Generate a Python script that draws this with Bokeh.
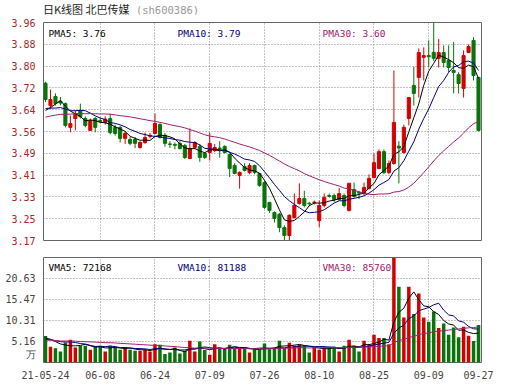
from bokeh.plotting import figure
from bokeh.layouts import column
from bokeh.models import FixedTicker, Label, Range1d, ColumnDataSource, Div
from bokeh.embed import file_html
from bokeh.resources import INLINE

# ---------------- data ----------------
tick_idx = [0, 11, 22, 33, 44, 55, 66, 77, 87]
tick_labels = ["21-05-24", "06-08", "06-24", "07-09", "07-26", "08-10", "08-25", "09-09", "09-27"]

price_tick_labels = ["3.17", "3.25", "3.33", "3.41", "3.49", "3.56", "3.64", "3.72", "3.80", "3.88", "3.96"]
vol_tick_labels = ["5.16", "10.31", "15.47", "20.63"]
vol_unit_label = "万"

opens = [3.740, 3.659, 3.692, 3.675, 3.666, 3.580, 3.612, 3.641, 3.612, 3.569,
         3.612, 3.605, 3.598, 3.612, 3.580, 3.580, 3.540, 3.536, 3.536, 3.507,
         3.525, 3.548, 3.558, 3.590, 3.551, 3.520, 3.518, 3.522, 3.514, 3.467,
         3.507, 3.511, 3.485, 3.489, 3.496, 3.505, 3.511, 3.482, 3.442, 3.406,
         3.438, 3.416, 3.442, 3.413, 3.380, 3.308, 3.271, 3.265, 3.217, 3.188,
         3.253, 3.304, 3.322, 3.305, 3.308, 3.242, 3.297, 3.333, 3.333, 3.318,
         3.333, 3.279, 3.355, 3.345, 3.340, 3.358, 3.398, 3.431, 3.492, 3.416,
         3.449, 3.512, 3.489, 3.612, 3.732, 3.761, 3.834, 3.840, 3.852, 3.830,
         3.851, 3.822, 3.786, 3.771, 3.721, 3.851, 3.895, 3.761]
closes = [3.681, 3.681, 3.666, 3.668, 3.587, 3.594, 3.630, 3.619, 3.587, 3.605,
          3.580, 3.601, 3.610, 3.561, 3.558, 3.540, 3.558, 3.522, 3.522, 3.525,
          3.543, 3.551, 3.594, 3.543, 3.522, 3.518, 3.515, 3.503, 3.471, 3.503,
          3.525, 3.471, 3.471, 3.522, 3.507, 3.503, 3.489, 3.431, 3.413, 3.417,
          3.424, 3.442, 3.417, 3.369, 3.290, 3.279, 3.250, 3.217, 3.188, 3.261,
          3.297, 3.322, 3.297, 3.303, 3.309, 3.297, 3.326, 3.330, 3.318, 3.340,
          3.297, 3.377, 3.330, 3.342, 3.362, 3.395, 3.452, 3.492, 3.416, 3.449,
          3.598, 3.505, 3.580, 3.688, 3.703, 3.851, 3.840, 3.836, 3.830, 3.851,
          3.815, 3.797, 3.779, 3.739, 3.840, 3.873, 3.768, 3.569]
highs = [3.745, 3.717, 3.703, 3.690, 3.670, 3.623, 3.641, 3.666, 3.620, 3.612,
         3.617, 3.615, 3.620, 3.630, 3.590, 3.585, 3.565, 3.545, 3.545, 3.530,
         3.561, 3.560, 3.630, 3.595, 3.560, 3.530, 3.525, 3.530, 3.520, 3.576,
         3.530, 3.520, 3.490, 3.561, 3.520, 3.530, 3.515, 3.485, 3.450, 3.420,
         3.450, 3.450, 3.445, 3.415, 3.385, 3.310, 3.275, 3.270, 3.225, 3.265,
         3.340, 3.377, 3.350, 3.310, 3.315, 3.315, 3.340, 3.340, 3.340, 3.360,
         3.340, 3.380, 3.380, 3.350, 3.380, 3.410, 3.485, 3.500, 3.500, 3.460,
         3.786, 3.530, 3.590, 3.690, 3.800, 3.866, 3.870, 3.895, 3.975, 3.900,
         3.877, 3.877, 3.890, 3.780, 3.859, 3.880, 3.907, 3.761]
lows = [3.672, 3.648, 3.659, 3.660, 3.580, 3.562, 3.569, 3.612, 3.580, 3.569,
        3.562, 3.595, 3.590, 3.555, 3.550, 3.525, 3.520, 3.515, 3.505, 3.503,
        3.520, 3.540, 3.555, 3.540, 3.510, 3.505, 3.500, 3.500, 3.465, 3.465,
        3.500, 3.455, 3.465, 3.460, 3.490, 3.470, 3.485, 3.400, 3.410, 3.358,
        3.420, 3.410, 3.410, 3.365, 3.285, 3.270, 3.235, 3.200, 3.170, 3.172,
        3.250, 3.300, 3.290, 3.295, 3.300, 3.218, 3.290, 3.325, 3.310, 3.315,
        3.290, 3.275, 3.325, 3.320, 3.335, 3.355, 3.395, 3.428, 3.410, 3.410,
        3.445, 3.377, 3.485, 3.587, 3.659, 3.688, 3.750, 3.797, 3.820, 3.797,
        3.797, 3.780, 3.703, 3.703, 3.688, 3.850, 3.750, 3.565]
# volume in 万 (10k lots)
volumes = [6.50, 3.86, 3.53, 2.70, 4.91, 5.58, 3.69, 4.10, 4.10, 3.12,
           3.93, 4.10, 2.70, 4.10, 3.69, 3.12, 3.69, 3.12, 2.87, 2.87,
           3.12, 2.70, 4.51, 4.35, 2.06, 2.46, 3.69, 2.21, 2.87, 5.33,
           2.70, 5.16, 3.05, 1.89, 4.51, 3.53, 3.53, 4.35, 3.53, 3.53,
           3.53, 2.46, 3.28, 3.12, 4.67, 3.28, 3.53, 5.33, 3.53, 4.84,
           4.10, 4.35, 4.10, 2.46, 3.69, 3.12, 3.69, 3.86, 3.69, 2.70,
           4.10, 5.58, 4.10, 2.70, 5.33, 4.27, 6.80, 6.00, 6.00, 4.50,
           26.5, 18.6, 11.06, 18.6, 11.9, 16.95, 11.06, 10.0, 12.5, 8.45,
           9.58, 6.80, 8.60, 6.20, 8.80, 6.60, 5.30, 9.18]
# closes / volumes of the 29 sessions before 21-05-24 (inferred from where the MA lines start)
prev_closes = [3.56, 3.57, 3.58, 3.59, 3.57, 3.58, 3.60, 3.61, 3.59, 3.60,
               3.62, 3.61, 3.60, 3.62, 3.63, 3.61, 3.60, 3.62, 3.63, 3.64,
               3.66, 3.67, 3.65, 3.64, 3.655, 3.63, 3.60, 3.605, 3.69]
prev_volumes = [4.8, 5.6, 6.2, 5.1, 4.9, 5.8, 6.4, 5.3, 4.7, 5.5,
                5.9, 5.2, 4.6, 5.0, 6.1, 5.7, 5.4, 4.9, 5.6, 4.8,
                5.2, 5.9, 5.4, 5.6, 5.4, 5.3, 6.4, 5.6, 6.2]

title_main = "日K线图 北巴传媒"
title_code = "(sh600386)"
legend_price = ["PMA5: 3.76", "PMA10: 3.79", "PMA30: 3.60"]
legend_vol = ["VMA5: 72168", "VMA10: 81188", "VMA30: 85760"]

# ---------------- derived ----------------
RED = "#d40000"
GREEN = "#0b730b"
C5, C10, C30 = "#000000", "#000080", "#a0206e"


def mavg(prev, vals, k):
    allv = list(prev) + list(vals)
    off = len(prev)
    return [sum(allv[off + i - k + 1: off + i + 1]) / k for i in range(len(vals))]


n = len(closes)
xs = list(range(n))
colors = [RED if c >= o else GREEN for o, c in zip(opens, closes)]
src = ColumnDataSource(dict(
    x=xs, o=opens, c=closes, h=highs, l=lows,
    top=[max(o, c) for o, c in zip(opens, closes)],
    bot=[min(o, c) for o, c in zip(opens, closes)],
    color=colors, vol=volumes,
    ma5=mavg(prev_closes, closes, 5), ma10=mavg(prev_closes, closes, 10), ma30=mavg(prev_closes, closes, 30),
    v5=mavg(prev_volumes, volumes, 5), v10=mavg(prev_volumes, volumes, 10), v30=mavg(prev_volumes, volumes, 30),
))

MONO = "DejaVu Sans Mono"
W = 522
LEFT = 43
RIGHT = 41
xr = Range1d(-0.4, 87.6)

# ---------------- title ----------------
title = Div(
    text=(f'<div style="padding-left:{LEFT}px; padding-top:2px; white-space:nowrap; line-height:14px;">'
          f'<span style="font-family:\'Noto Sans CJK SC\'; font-size:11px; color:#222222;">{title_main}</span>'
          f'<span style="font-family:\'DejaVu Sans Mono\'; font-size:10.5px; color:#999999;"> {title_code}</span></div>'),
    width=W, height=14, styles={"margin": "0", "padding": "0"})

# ---------------- price panel ----------------
p_lo, p_hi = 3.17, 3.96
price_ticks = [p_lo + (p_hi - p_lo) * k / 10 for k in range(11)]
p1 = figure(width=W, height=232, x_range=xr, y_range=Range1d(p_lo, p_hi),
            output_backend="svg", toolbar_location=None,
            min_border_left=LEFT, min_border_right=RIGHT, min_border_top=8, min_border_bottom=6)
p1.outline_line_color = "#666666"
p1.xaxis.visible = False
ax = p1.yaxis[0]
ax.ticker = FixedTicker(ticks=price_ticks)
ax.major_label_overrides = {t: s for t, s in zip(price_ticks, price_tick_labels)}
ax.axis_line_color = None
ax.major_tick_line_color = None
ax.minor_tick_line_color = None
ax.major_label_standoff = 2
ax.major_label_text_font = MONO
ax.major_label_text_font_size = "10px"
ax.major_label_text_color = "#a52a2a"
p1.ygrid.grid_line_color = "#888888"
p1.ygrid.grid_line_dash = "1 2"
p1.xgrid.ticker = FixedTicker(ticks=tick_idx[1:-1])
p1.xgrid.grid_line_color = "#888888"
p1.xgrid.grid_line_dash = "1 2"

p1.segment(x0="x", y0="l", x1="x", y1="h", line_color="color", line_width=1, source=src)
p1.vbar(x="x", top="top", bottom="bot", width=0.62, fill_color="color", line_color="color",
        line_width=1, source=src)
p1.line("x", "ma5", line_color=C5, line_width=1, source=src)
p1.line("x", "ma10", line_color=C10, line_width=1, source=src)
p1.line("x", "ma30", line_color=C30, line_width=1, source=src)

for txt, xpos, col in zip(legend_price, [5, 134, 279], [C5, C10, C30]):
    p1.add_layout(Label(x=xpos, y=207, x_units="screen", y_units="screen", text=txt,
                        text_font=MONO, text_font_size="9.5px", text_color=col,
                        text_baseline="middle", level="underlay"))

# ---------------- volume panel ----------------
vstep = 20.63 / 4
vol_ticks = [vstep * k for k in range(1, 5)]
unit_tick = vstep * 0.4
p2 = figure(width=W, height=137, x_range=xr, y_range=Range1d(0, vstep * 5),
            output_backend="svg", toolbar_location=None,
            min_border_left=LEFT, min_border_right=RIGHT, min_border_top=11, min_border_bottom=21)
p2.outline_line_color = "#666666"
ay = p2.yaxis[0]
ay.ticker = FixedTicker(ticks=[unit_tick] + vol_ticks)
overrides = {t: s for t, s in zip(vol_ticks, vol_tick_labels)}
overrides[unit_tick] = vol_unit_label
ay.major_label_overrides = overrides
axx = p2.xaxis[0]
axx.ticker = FixedTicker(ticks=tick_idx)
axx.major_label_overrides = {t: s for t, s in zip(tick_idx, tick_labels)}
for a in (ay, axx):
    a.axis_line_color = None
    a.major_tick_line_color = None
    a.minor_tick_line_color = None
    a.major_label_standoff = 2
    a.major_label_text_font = MONO
    a.major_label_text_font_size = "10px"
    a.major_label_text_color = "#444444"
p2.ygrid.ticker = FixedTicker(ticks=vol_ticks)
p2.ygrid.grid_line_color = "#888888"
p2.ygrid.grid_line_dash = "1 2"
p2.xgrid.ticker = FixedTicker(ticks=tick_idx[1:-1])
p2.xgrid.grid_line_color = "#888888"
p2.xgrid.grid_line_dash = "1 2"

p2.vbar(x="x", top="vol", bottom=0, width=0.7, fill_color="color", line_color=None, source=src)
p2.line("x", "v5", line_color=C5, line_width=1, source=src)
p2.line("x", "v10", line_color=C10, line_width=1, source=src)
p2.line("x", "v30", line_color=C30, line_width=1, source=src)

for txt, xpos, col in zip(legend_vol, [5, 134, 279], [C5, C10, C30]):
    p2.add_layout(Label(x=xpos, y=95, x_units="screen", y_units="screen", text=txt,
                        text_font=MONO, text_font_size="9.5px", text_color=col,
                        text_baseline="middle", level="underlay"))

layout = column(title, p1, p2)
open("out.html", "w").write(file_html(layout, INLINE))
